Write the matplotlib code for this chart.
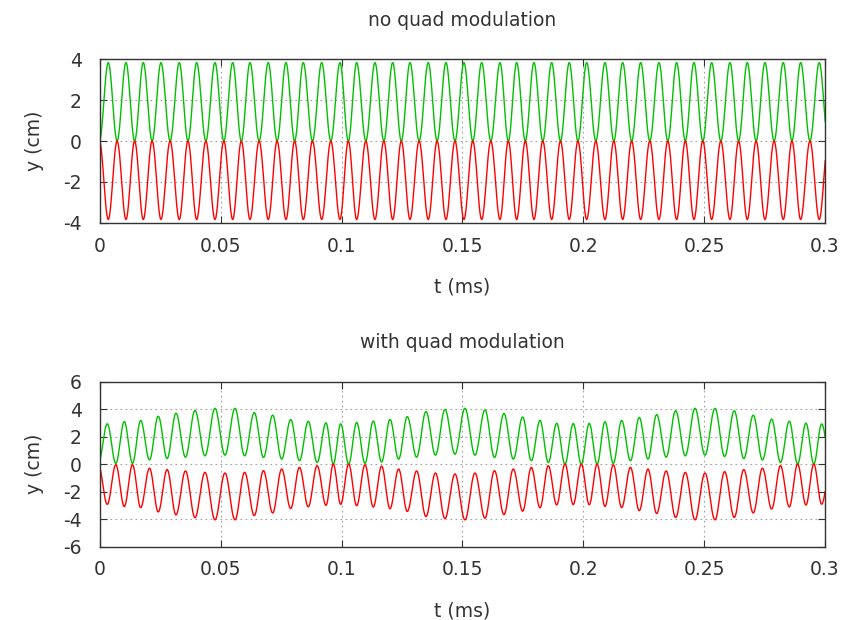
import matplotlib
matplotlib.use('Agg')
import matplotlib.pyplot as plt
import numpy as np

# times (ms) of the green maxima
top_peak_t = [0.00343, 0.01076, 0.01792, 0.02524, 0.03281, 0.04001, 0.04759,
              0.05491, 0.06207, 0.06964, 0.07697, 0.08412, 0.09174, 0.09931,
              0.10622, 0.11379, 0.12112, 0.12828, 0.13585, 0.14317, 0.15062,
              0.15794, 0.16552, 0.17243, 0.17958, 0.18691, 0.19419, 0.20139,
              0.20897, 0.21629, 0.22374, 0.23131, 0.23863, 0.24579, 0.25312,
              0.26069, 0.26785, 0.27517, 0.28274, 0.28994, 0.29764]
top_peak_y = [3.84] * 41
top_trough_y = [0.0] * 42

bot_peak_t = [0.00302, 0.01006, 0.01684, 0.02412, 0.03145, 0.03931, 0.04759,
              0.05586, 0.06385, 0.07146, 0.07891, 0.08619, 0.09352, 0.09960,
              0.10622, 0.11309, 0.12000, 0.12716, 0.13489, 0.14276, 0.15103,
              0.15931, 0.16717, 0.17491, 0.18207, 0.18898, 0.19585, 0.20247,
              0.20897, 0.21587, 0.22316, 0.23036, 0.23822, 0.24621, 0.25448,
              0.26247, 0.27033, 0.27794, 0.28523, 0.29214, 0.29863]
bot_peak_y = [2.93, 3.09, 3.17, 3.48, 3.70, 3.90, 4.06, 4.06, 3.75, 3.56,
              3.24, 3.11, 3.00, 2.93, 3.03, 3.13, 3.25, 3.45, 3.82, 3.97,
              4.06, 3.94, 3.68, 3.43, 3.18, 2.97, 2.95, 2.96, 3.08, 3.17,
              3.39, 3.60, 3.88, 4.06, 4.06, 3.88, 3.56, 3.27, 3.12, 2.98, 2.92]
# minima: one before the first peak, one between each pair, one after the last
bot_trough_y = [0.05, 0.05, 0.05, 0.30, 0.40, 0.50, 0.60, 0.65, 0.60, 0.48,
                0.36, 0.24, 0.12, 0.0, 0.0, 0.05, 0.15, 0.36, 0.50, 0.65,
                0.72, 0.65, 0.48, 0.36, 0.24, 0.12, 0.0, 0.0, 0.0, 0.05,
                0.24, 0.36, 0.50, 0.60, 0.65, 0.55, 0.40, 0.30, 0.12, 0.0,
                0.0, 0.0]

x_ticks = [0, 0.05, 0.1, 0.15, 0.2, 0.25, 0.3]
x_labels = ['0', '0.05', '0.1', '0.15', '0.2', '0.25', '0.3']


def wave(peak_t, peak_y, trough_y):
    # smooth half-cosine segments through the alternating extrema
    pt = np.array(peak_t)
    half = np.diff(pt).mean() / 2
    mid = (pt[:-1] + pt[1:]) / 2
    tr_t = np.concatenate([[pt[0] - half], mid, [pt[-1] + half]])
    et = np.empty(len(pt) + len(tr_t))
    ey = np.empty_like(et)
    et[0::2], ey[0::2] = tr_t, trough_y
    et[1::2], ey[1::2] = pt, peak_y
    s = np.linspace(0, 1, 25)[:-1]
    w = (1 - np.cos(np.pi * s)) / 2
    t = np.concatenate([a + (b - a) * s for a, b in zip(et[:-1], et[1:])] + [et[-1:]])
    y = np.concatenate([a + (b - a) * w for a, b in zip(ey[:-1], ey[1:])] + [ey[-1:]])
    return t, y


plt.rcParams['font.family'] = ['DejaVu Sans']
plt.rcParams['axes.unicode_minus'] = False
fs = 13.5
fig = plt.figure(figsize=(8.43, 6.2), dpi=100)
ax1 = fig.add_axes([0.1186, 0.6408, 0.8600, 0.2635])
ax2 = fig.add_axes([0.1186, 0.1185, 0.8600, 0.2660])

panels = [
    (ax1, top_peak_t, top_peak_y, top_trough_y, 'no quad modulation', [-4, -2, 0, 2, 4]),
    (ax2, bot_peak_t, bot_peak_y, bot_trough_y, 'with quad modulation', [-6, -4, -2, 0, 2, 4, 6]),
]

for ax, pt, py, ty, title, yt in panels:
    t, g = wave(pt, py, ty)
    ax.plot(t, g, color='#00c000', lw=1.0)
    ax.plot(t, -g, color='#ff0000', lw=1.0)
    ax.set_xlim(0, 0.3)
    ax.set_ylim(yt[0], yt[-1])
    ax.set_xticks(x_ticks)
    ax.set_xticklabels(x_labels)
    ax.set_yticks(yt)
    ax.grid(True, color='#a0a0a0', linestyle=(0, (1.5, 3)), linewidth=0.8)
    ax.tick_params(direction='in', top=True, right=True, length=5,
                   labelsize=fs, colors='#333333')
    ax.tick_params(axis='x', pad=10)
    ax.tick_params(axis='y', pad=13)
    for sp in ax.spines.values():
        sp.set_color('#333333')
        sp.set_linewidth(1.0)
    ax.set_title(title, fontsize=fs, color='#333333', pad=24)
    ax.set_xlabel('t (ms)', fontsize=fs, color='#333333', labelpad=16)
    ax.set_ylabel('y (cm)', fontsize=fs, color='#333333', labelpad=14)

fig.savefig('out.png', dpi=100)
